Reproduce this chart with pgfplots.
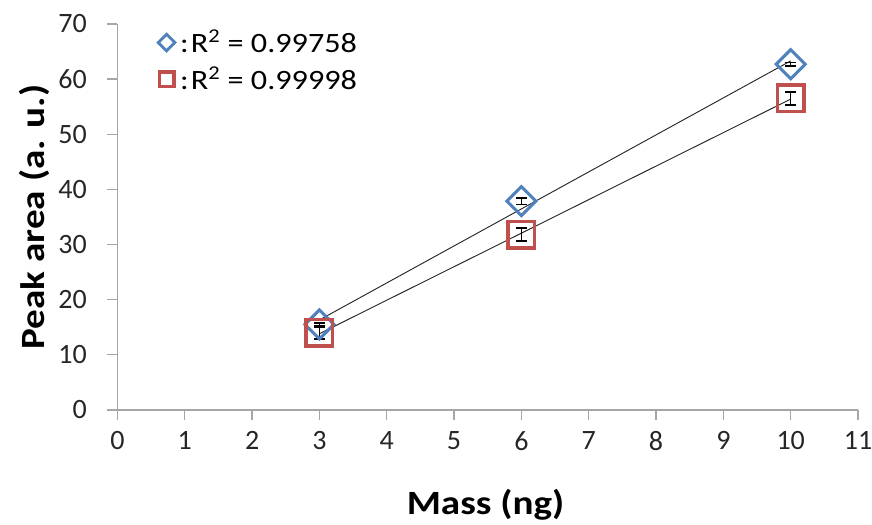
\documentclass[border=0pt]{standalone}
\usepackage{pgfplots}
\pgfplotsset{compat=1.18}
\usepackage{fontspec}
\setmainfont{Carlito}
\newfontfamily\widefont{Carlito}[FakeStretch=1.15]
\definecolor{xlblue}{HTML}{4F81BD}
\definecolor{xlred}{HTML}{C0504D}
\definecolor{axgrey}{HTML}{A6A6A6}
\newcommand\bluelegimg{\draw[xlblue, line width=2.1pt] plot[mark=square, mark size=4.4pt, mark options={rotate=45}] coordinates {(0.1cm,0cm)};}
\newcommand\redlegimg{\draw[xlred, line width=2.2pt] plot[mark=square, mark size=5.4pt] coordinates {(0.1cm,0cm)};}
\begin{document}
\begin{tikzpicture}
\begin{axis}[
  name=ax,
  scale only axis,
  width=555.5pt, height=289.5pt,
  xmin=0, xmax=11, ymin=0, ymax=70,
  xtick={0,1,...,11}, ytick={0,10,...,70},
  axis x line*=bottom, axis y line*=left,
  axis line style={axgrey, line width=1pt},
  tick style={axgrey, line width=1pt},
  tick align=outside,
  major tick length=7.5pt,
  /pgf/number format/assume math mode=true,
  ticklabel style={font=\fontsize{21}{24}\selectfont, text=black!85},
  xticklabel style={yshift=-5pt},
  yticklabel style={xshift=-12pt},
  xlabel={Mass (ng)},
  ylabel={Peak area (a. u.)},
  label style={font=\widefont\fontsize{25.5}{30}\selectfont\bfseries},
  xlabel style={at={(axis description cs:0.497,0)}, anchor=base, yshift=-78.75pt},
  ylabel style={at={(axis description cs:0,0.5)}, anchor=base, yshift=54.4pt},
  legend style={at={(0.053,0.995)}, anchor=north west, draw=none, fill=none,
    font=\widefont\fontsize{21}{24}\selectfont, row sep=5pt, inner sep=1pt,
    legend cell align=left},
  clip=false,
]
% markers
\addplot[only marks, mark=square, mark options={rotate=45, draw=xlblue, line width=2.3pt}, mark size=7.7pt,
  legend image code/.code={\bluelegimg}]
  coordinates {(3,15.5) (6,37.87) (10,62.7)};
\addlegendentry{\hspace{2pt}:\hspace{1.5pt}R\textsuperscript{2} = 0.99758}
\addplot[only marks, mark=square, mark options={draw=xlred, line width=2.6pt}, mark size=9.9pt,
  legend image code/.code={\redlegimg}]
  coordinates {(3,13.96) (6,31.8) (10,56.5)};
\addlegendentry{\hspace{2pt}:\hspace{1.5pt}R\textsuperscript{2} = 0.99998}
% trend lines
\addplot[forget plot, black!85, line width=0.7pt, no marks] coordinates {(3,16.32) (10,63.31)};
\addplot[forget plot, black!85, line width=0.7pt, no marks] coordinates {(3,13.82) (10,56.38)};
% error bars
\addplot[forget plot, draw=none, no marks, error bars/.cd, y dir=both, y explicit,
  error bar style={draw=black, line width=1.2pt},
  error mark options={draw=black, rotate=90, mark size=4pt, line width=1.2pt}]
  coordinates {(3,15.5) +- (0,0.3) (6,37.87) +- (0,0.6) (10,62.7) +- (0,0.3)};
\addplot[forget plot, draw=none, no marks, error bars/.cd, y dir=both, y explicit,
  error bar style={draw=black, line width=1.2pt},
  error mark options={draw=black, rotate=90, mark size=4pt, line width=1.2pt}]
  coordinates {(3,13.96) +- (0,1.1) (6,31.8) +- (0,1.2) (10,56.5) +- (0,1.2)};
\end{axis}
\pgfresetboundingbox
\path ([shift={(-88.1pt,-86.25pt)}]ax.south west) rectangle ([shift={(10.5pt,18pt)}]ax.north east);
\end{tikzpicture}
\end{document}
